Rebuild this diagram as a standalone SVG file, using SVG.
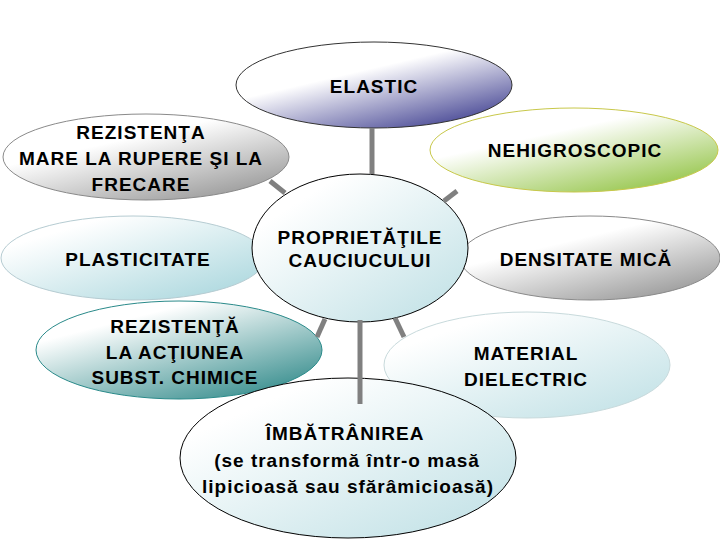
<svg xmlns="http://www.w3.org/2000/svg" width="720" height="540" viewBox="0 0 720 540">
<style>
text{font-family:"Liberation Sans",Arial,sans-serif;font-weight:bold;font-size:19px;letter-spacing:1px;fill:#000;text-anchor:middle;dominant-baseline:central}
.c{stroke:#808080;stroke-width:5;fill:none}
</style>
<defs>
<linearGradient id="gBlue" x1="0.3" y1="0.2" x2="0.9" y2="1"><stop offset="0.2" stop-color="#ffffff"/><stop offset="1" stop-color="#35358a"/></linearGradient>
<linearGradient id="gGray" x1="0.3" y1="0.2" x2="0.9" y2="1"><stop offset="0.15" stop-color="#ffffff"/><stop offset="1" stop-color="#909090"/></linearGradient>
<linearGradient id="gGreen" x1="0.3" y1="0.2" x2="0.9" y2="1"><stop offset="0.15" stop-color="#ffffff"/><stop offset="1" stop-color="#8cc03a"/></linearGradient>
<linearGradient id="gPale" x1="0.2" y1="0.2" x2="0.95" y2="1"><stop offset="0" stop-color="#ffffff"/><stop offset="1" stop-color="#a6d5dc"/></linearGradient>
<linearGradient id="gTeal" x1="0.3" y1="0.2" x2="0.9" y2="1"><stop offset="0" stop-color="#ffffff"/><stop offset="1" stop-color="#2a8686"/></linearGradient>
<linearGradient id="gLight" x1="0.2" y1="0.2" x2="0.95" y2="1"><stop offset="0" stop-color="#ffffff"/><stop offset="1" stop-color="#bfe0e5"/></linearGradient>
</defs>

<g id="elastic"><ellipse cx="374" cy="85" rx="138" ry="43" fill="url(#gBlue)" stroke="#333" stroke-width="1"/><text x="374" y="86">ELASTIC</text></g>
<g id="rezistenta-rupere"><ellipse cx="146" cy="157" rx="143" ry="43" fill="url(#gGray)" stroke="#8a8a8a" stroke-width="1"/><text x="141" y="132">REZISTENŢA</text><text x="141" y="158">MARE LA RUPERE ŞI LA</text><text x="141" y="184">FRECARE</text></g>
<g id="nehigroscopic"><ellipse cx="574" cy="150" rx="144" ry="42" fill="url(#gGreen)" stroke="#c8c84a" stroke-width="1"/><text x="575" y="150">NEHIGROSCOPIC</text></g>
<g id="plasticitate"><ellipse cx="133" cy="258" rx="132" ry="42" fill="url(#gPale)" stroke="#b6ccd2" stroke-width="1"/><text x="138" y="259">PLASTICITATE</text></g>
<g id="densitate"><ellipse cx="590" cy="258" rx="130" ry="42" fill="url(#gGray)" stroke="#8a8a8a" stroke-width="1"/><text x="586" y="259">DENSITATE MICĂ</text></g>
<g id="proprietatile"><ellipse cx="360" cy="248" rx="108" ry="74" fill="url(#gLight)" stroke="#000" stroke-width="1"/><text x="360" y="237">PROPRIETĂŢILE</text><text x="360" y="260">CAUCIUCULUI</text></g>
<g id="rezistenta-chimice"><ellipse cx="179" cy="350" rx="143" ry="49" fill="url(#gTeal)" stroke="#2a8a8a" stroke-width="1"/><text x="175" y="326">REZISTENŢĂ</text><text x="175" y="352">LA ACŢIUNEA</text><text x="175" y="377">SUBST. CHIMICE</text></g>
<g id="material"><ellipse cx="527" cy="365" rx="143" ry="53" fill="url(#gLight)" stroke="#c8dadc" stroke-width="1"/><text x="526" y="353">MATERIAL</text><text x="526" y="379">DIELECTRIC</text></g>
<g id="imbatranirea"><ellipse cx="348" cy="458" rx="168" ry="80" fill="url(#gLight)" stroke="#000" stroke-width="1"/><text x="345" y="433">ÎMBĂTRÂNIREA</text><text x="347" y="460">(se transformă într-o masă</text><text x="348" y="486">lipicioasă sau sfărâmicioasă)</text></g>

<g id="connectors">
<line class="c" x1="372" y1="128" x2="372" y2="174"/>
<line class="c" x1="270" y1="181" x2="285" y2="193"/>
<line class="c" x1="457" y1="191" x2="444" y2="201"/>
<line class="c" x1="325" y1="319" x2="317" y2="337"/>
<line class="c" x1="360" y1="320" x2="360" y2="404"/>
<line class="c" x1="395" y1="318" x2="404" y2="337"/>
</g>
</svg>
